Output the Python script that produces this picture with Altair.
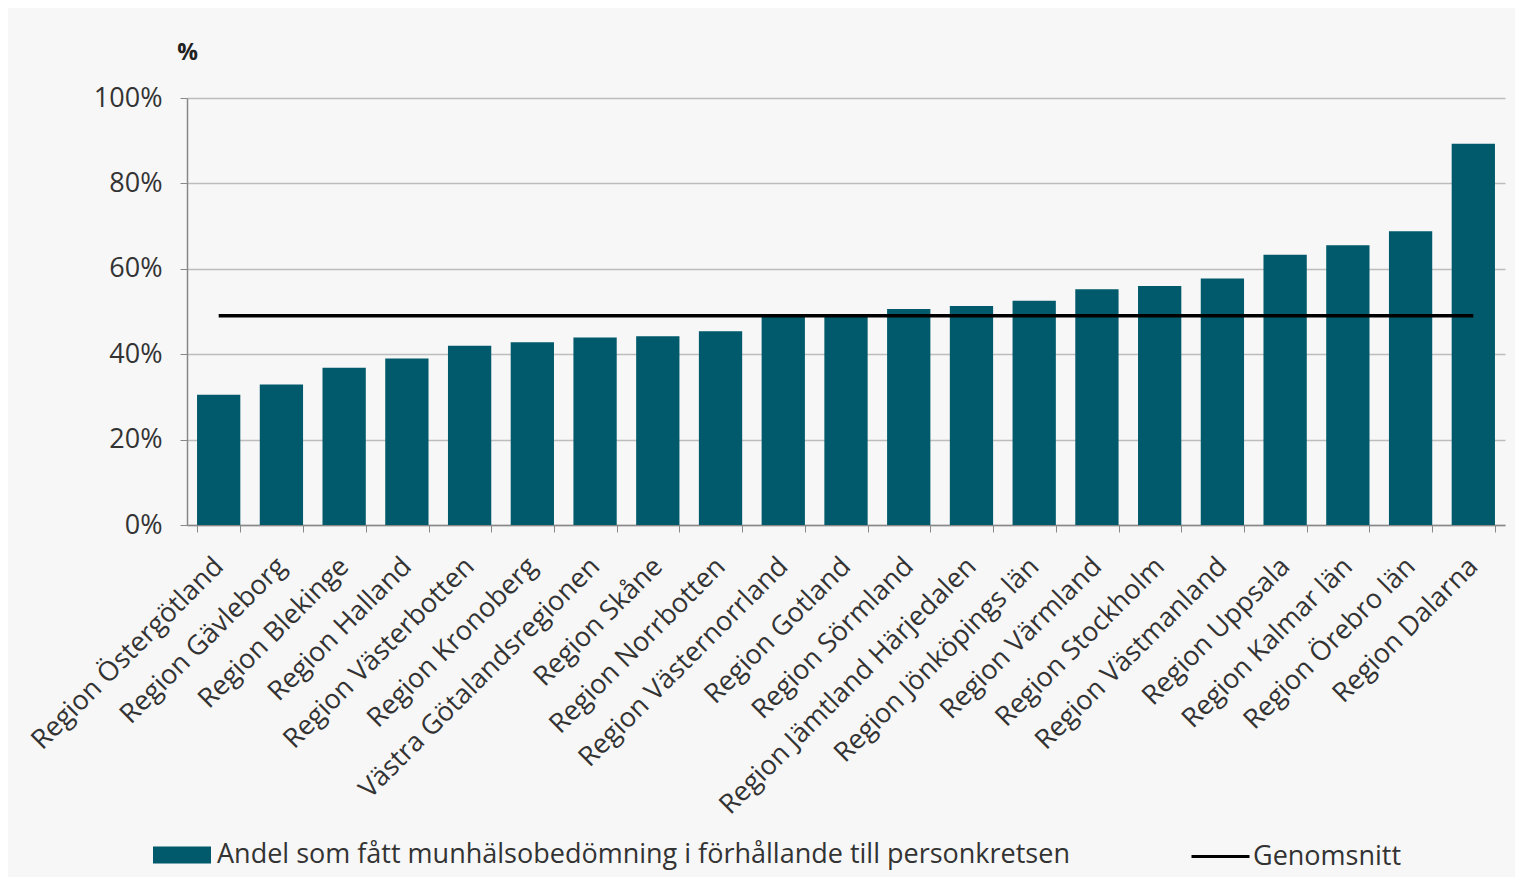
import altair as alt
import pandas as pd

regions = ["Region Östergötland", "Region Gävleborg", "Region Blekinge", "Region Halland",
           "Region Västerbotten", "Region Kronoberg", "Västra Götalandsregionen", "Region Skåne",
           "Region Norrbotten", "Region Västernorrland", "Region Gotland", "Region Sörmland",
           "Region Jämtland Härjedalen", "Region Jönköpings län", "Region Värmland",
           "Region Stockholm", "Region Västmanland", "Region Uppsala", "Region Kalmar län",
           "Region Örebro län", "Region Dalarna"]
values = [30.5, 32.9, 36.8, 39.0, 42.0, 42.8, 43.9, 44.2, 45.4, 49.3, 49.3, 50.6,
          51.3, 52.5, 55.2, 56.0, 57.7, 63.3, 65.5, 68.8, 89.3]
average = 49.0
bar_name = "Andel som fått munhälsobedömning i förhållande till personkretsen"
line_name = "Genomsnitt"
y_ticks = [0, 20, 40, 60, 80, 100]

df = pd.DataFrame({"region": regions, "value": values,
                   "avg": [average] * len(regions),
                   "bar_series": bar_name, "line_series": line_name})

FONT = "Open Sans"
TEAL = "#015a6b"

x = alt.X("region:N", sort=regions, title=None,
          scale=alt.Scale(paddingInner=0.31, paddingOuter=0.16),
          axis=alt.Axis(labelAngle=-45, labelAlign="right", labelBaseline="middle",
                        labelFontSize=27, labelFont=FONT, labelColor="#333333",
                        labelPadding=30, tickBand="extent", tickSize=7,
                        tickColor="#888888", domainColor="#888888", domainWidth=1.5,
                        labelOverlap=False, labelLimit=1000, grid=False))

bars = alt.Chart(df).mark_bar(color=TEAL).encode(
    x=x,
    y=alt.Y("value:Q", scale=alt.Scale(domain=[0, 100]), title="%",
            axis=alt.Axis(values=y_ticks, labelExpr="datum.value + '%'",
                          labelFontSize=27, labelFont=FONT, labelColor="#333333",
                          labelPadding=18, tickSize=7, tickColor="#888888",
                          domainColor="#888888", domainWidth=1.5,
                          gridColor="#bdbdbd", gridWidth=1.5,
                          titleAngle=0, titleX=0, titleY=-46, titleAlign="center",
                          titleBaseline="middle", titleFontSize=23, titleFont=FONT,
                          titleColor="#222222", titleFontWeight="bold")),
    fill=alt.Fill("bar_series:N", scale=alt.Scale(domain=[bar_name], range=[TEAL]),
                  legend=alt.Legend(title=None, orient="none", legendX=-34, legendY=728,
                                    symbolType="M-1,-0.29L1,-0.29L1,0.29L-1,0.29Z",
                                    symbolSize=3364, symbolStrokeWidth=0,
                                    labelFontSize=27, labelFont=FONT, labelColor="#333333",
                                    labelOffset=6, padding=0, labelLimit=1200)),
)

line = alt.Chart(df).mark_line(strokeWidth=3.5).encode(
    x=alt.X("region:N", sort=regions),
    y=alt.Y("avg:Q"),
    stroke=alt.Stroke("line_series:N", scale=alt.Scale(domain=[line_name], range=["#000000"]),
                      legend=alt.Legend(title=None, orient="none", legendX=1003, legendY=728,
                                        symbolType="stroke", symbolSize=3364,
                                        symbolStrokeWidth=3,
                                        labelFontSize=27, labelFont=FONT, labelColor="#333333",
                                        labelOffset=2, padding=0)),
)

chart = (bars + line).properties(
    width=1318, height=427,
    autosize=alt.AutoSizeParams(type="none"),
    padding={"left": 179, "top": 90, "right": 10, "bottom": 352},
    background="#f7f7f7",
).configure_view(stroke=None)

chart.save("out.html", embed_options={"renderer": "svg", "actions": False})
